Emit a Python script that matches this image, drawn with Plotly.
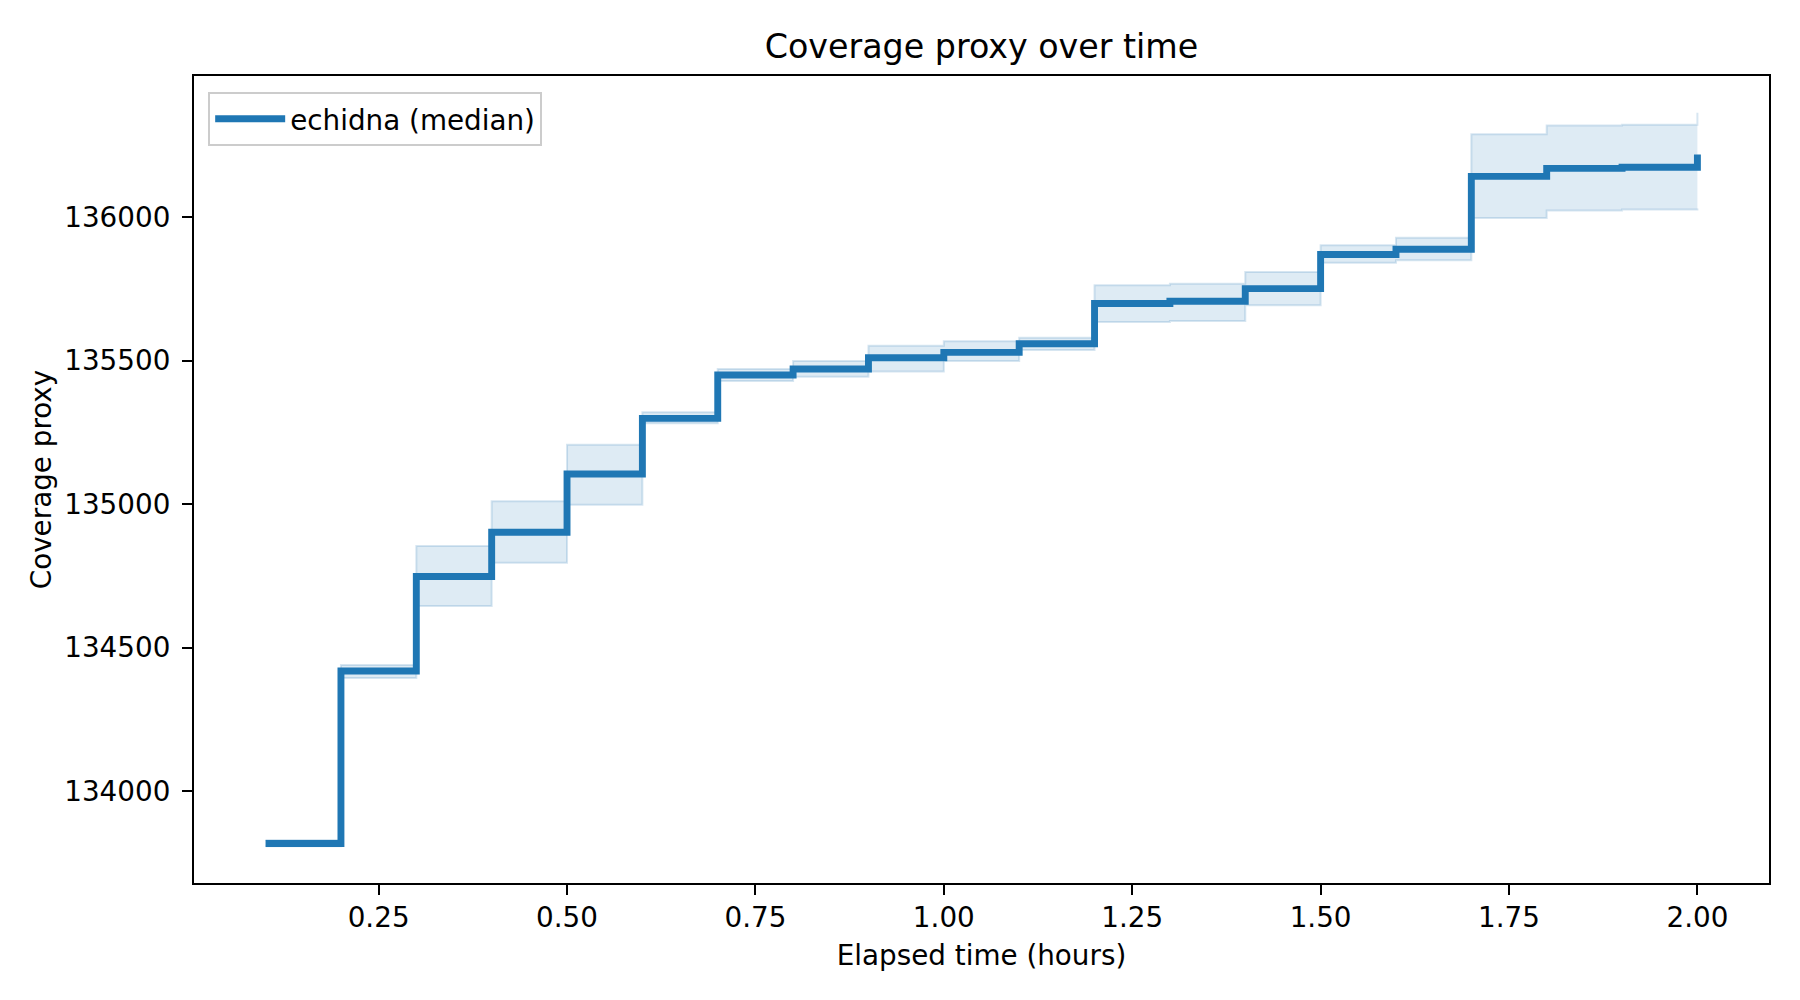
import plotly.graph_objects as go

# Elapsed time (hours)
hours = [0.1, 0.2, 0.3, 0.4, 0.5, 0.6, 0.7, 0.8, 0.9, 1.0,
         1.1, 1.2, 1.3, 1.4, 1.5, 1.6, 1.7, 1.8, 1.9, 2.0]

# Median coverage proxy (echidna)
median = [133818, 134419, 134748, 134902, 135105, 135299, 135450, 135471, 135510, 135529,
          135559, 135699, 135707, 135751, 135870, 135888, 136142, 136170, 136174, 136218]

# Band: lower / upper
lower = [133808, 134394, 134645, 134796, 134998, 135282, 135429, 135444, 135462, 135499,
         135537, 135635, 135638, 135693, 135841, 135850, 135997, 136023, 136027, 136030]
upper = [133830, 134440, 134854, 135010, 135207, 135320, 135471, 135499, 135552, 135568,
         135580, 135763, 135768, 135809, 135902, 135928, 136289, 136319, 136322, 136364]

x_ticks = [0.25, 0.50, 0.75, 1.00, 1.25, 1.50, 1.75, 2.00]
y_ticks = [134000, 134500, 135000, 135500, 136000]

BLUE = "#1f77b4"
FONT = "DejaVu Sans"

fig = go.Figure()

fig.add_trace(go.Scatter(
    x=hours, y=lower, mode="lines", line=dict(shape="hv", color="rgba(31,119,180,0.18)", width=2),
    showlegend=False, hoverinfo="skip"))
fig.add_trace(go.Scatter(
    x=hours, y=upper, mode="lines", line=dict(shape="hv", color="rgba(31,119,180,0.18)", width=2),
    fill="tonexty", fillcolor="rgba(31,119,180,0.15)", showlegend=False, hoverinfo="skip"))
fig.add_trace(go.Scatter(
    x=hours, y=median, mode="lines", name="echidna (median)",
    line=dict(shape="hv", color=BLUE, width=6.9)))

xspan = max(hours) - min(hours)
xr = [min(hours) - 0.05 * xspan, max(hours) + 0.05 * xspan]
ymin, ymax = min(lower), max(upper)
yspan = ymax - ymin
yr = [ymin - 0.05 * yspan, ymax + 0.05 * yspan]

axis_common = dict(
    showline=True, linecolor="black", linewidth=2.2, mirror=True,
    ticks="outside", ticklen=10, tickwidth=2.2, tickcolor="black",
    showgrid=False, zeroline=False,
    tickfont=dict(family=FONT, size=27.8, color="black"),
)

W, H = 1792, 992

fig.update_layout(
    width=W, height=H,
    paper_bgcolor="white", plot_bgcolor="white",
    margin=dict(l=186, r=31, t=68, b=117),
    font=dict(family=FONT, size=27.8, color="black"),
    title=dict(text="Coverage proxy over time", x=0.5, xref="paper", xanchor="center",
               y=1 - 38 / H, yref="container", yanchor="middle",
               font=dict(family=FONT, size=33.3, color="black")),
    xaxis=dict(range=xr, tickvals=x_ticks, tickformat=".2f",
               title=dict(text="Elapsed time (hours)", standoff=12,
                          font=dict(family=FONT, size=27.8, color="black")),
               ticklabelstandoff=-1, **axis_common),
    yaxis=dict(range=yr, tickvals=y_ticks, tickformat="d",
               title=dict(text="Coverage proxy", standoff=4,
                          font=dict(family=FONT, size=27.8, color="black")),
               ticklabelstandoff=6, **axis_common),
    legend=dict(x=0.009, y=0.98, xanchor="left", yanchor="top",
                bgcolor="rgba(255,255,255,0.8)", bordercolor="#cccccc", borderwidth=2,
                font=dict(family=FONT, size=27.8, color="black"), itemwidth=70),
    showlegend=True,
)

fig.write_html("out.html")
